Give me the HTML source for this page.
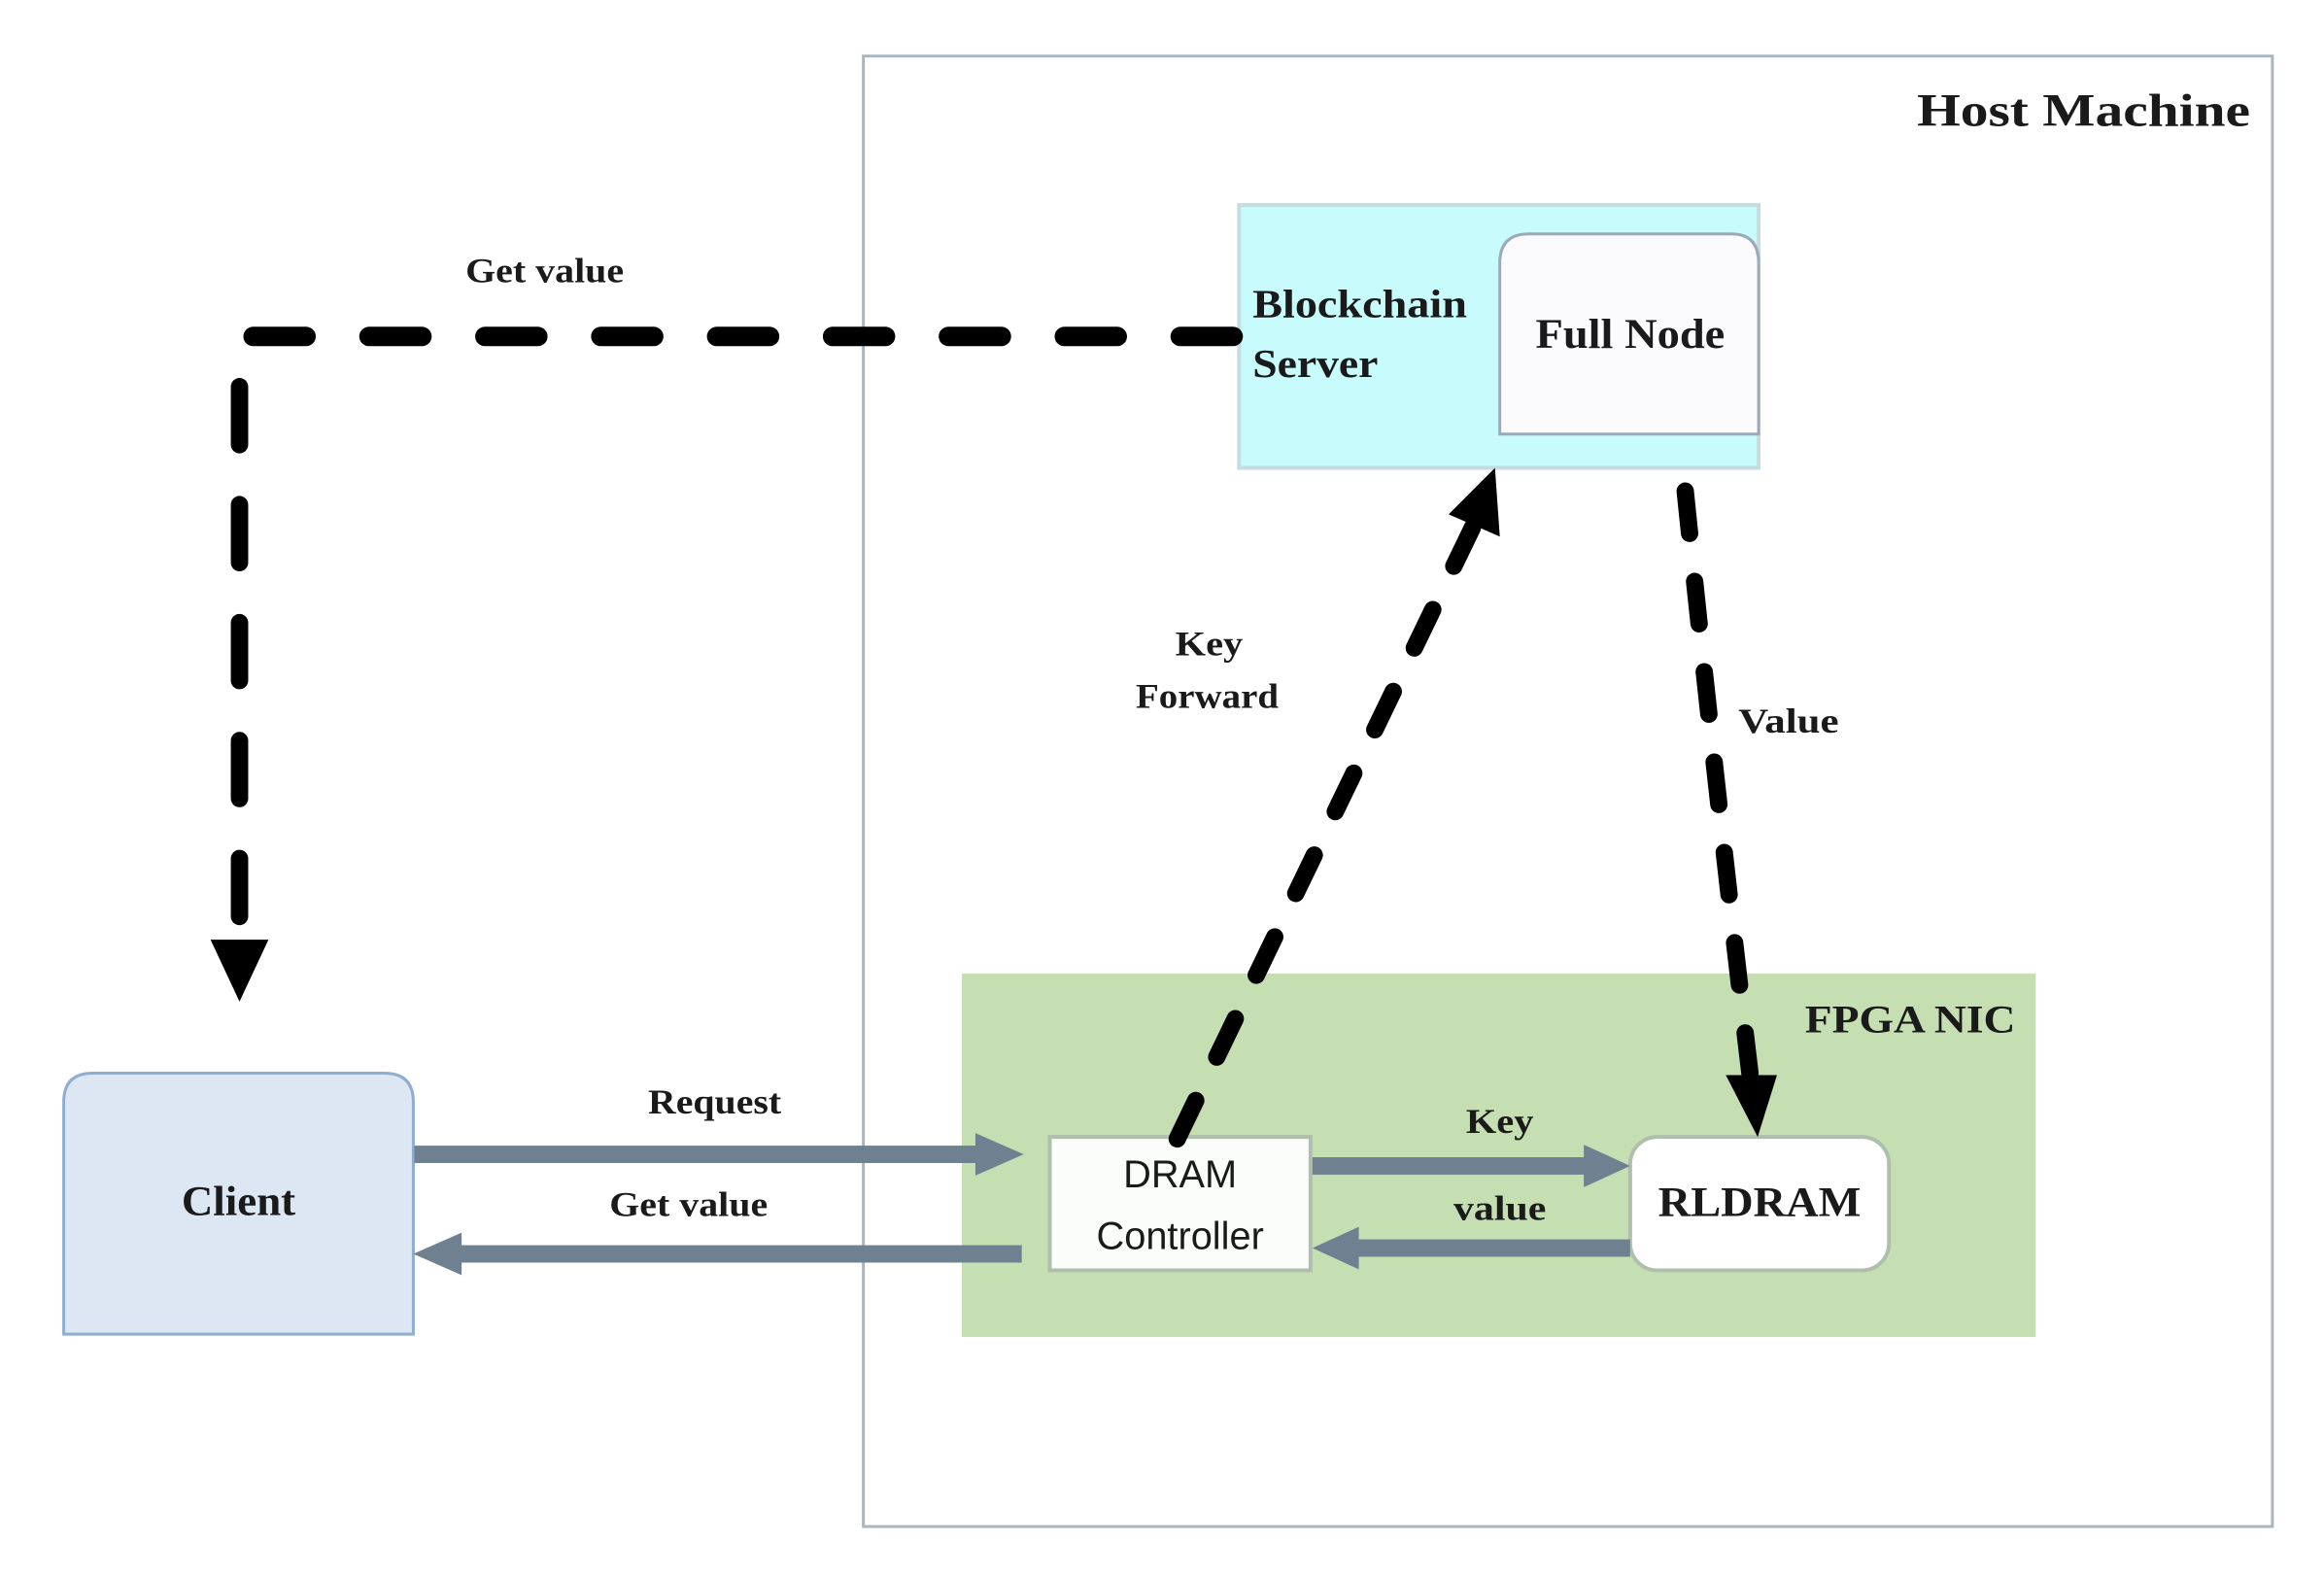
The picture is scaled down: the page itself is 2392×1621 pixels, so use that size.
<!DOCTYPE html>
<html><head><meta charset="utf-8"><style>
html,body{margin:0;padding:0;background:#fff;}
svg{display:block;}
.t{font-family:"Liberation Serif",serif;font-weight:bold;fill:#1a1a1a;}
.s{font-family:"Liberation Sans",sans-serif;fill:#1a1a1a;}
</style></head><body>
<svg width="2392" height="1621" viewBox="0 0 2392 1621" xmlns="http://www.w3.org/2000/svg">
<g transform="scale(0.994 0.995)">
<rect x="894" y="58" width="1459" height="1521" fill="#fff" stroke="#a9b6c2" stroke-width="3"/>
<text x="2330" y="130" text-anchor="end" class="t" font-size="48" textLength="345" lengthAdjust="spacingAndGlyphs">Host Machine</text>

<rect x="1283" y="212" width="538" height="272" fill="#c8fbfb" stroke="#c4dde0" stroke-width="4"/>
<path d="M1553 449 V272 Q1553 242 1583 242 H1793 Q1821 242 1821 272 V449 Z" fill="#fbfbfe" stroke="#9aaab8" stroke-width="3"/>
<text x="1297" y="328" class="t" font-size="42" textLength="222" lengthAdjust="spacingAndGlyphs">Blockchain</text>
<text x="1297" y="390" class="t" font-size="42" textLength="130" lengthAdjust="spacingAndGlyphs">Server</text>
<text x="1688" y="360" text-anchor="middle" class="t" font-size="44" textLength="196" lengthAdjust="spacingAndGlyphs">Full Node</text>

<text x="564" y="292" text-anchor="middle" class="t" font-size="36" textLength="164" lengthAdjust="spacingAndGlyphs">Get value</text>
<line x1="262" y1="348" x2="1285" y2="348" stroke="#000" stroke-width="20" stroke-linecap="round" stroke-dasharray="55 65"/>
<line x1="248" y1="400" x2="248" y2="960" stroke="#000" stroke-width="18" stroke-linecap="round" stroke-dasharray="60 62"/>
<polygon points="218,972 278,972 248,1036" fill="#000"/>

<path d="M66 1380 V1140 Q66 1110 96 1110 H398 Q428 1110 428 1140 V1380 Z" fill="#dce7f3" stroke="#8fadd0" stroke-width="3"/>
<text x="247" y="1257" text-anchor="middle" class="t" font-size="44" textLength="118" lengthAdjust="spacingAndGlyphs">Client</text>

<rect x="996" y="1007" width="1112" height="376" fill="#c5deb2"/>
<text x="1978" y="1068" text-anchor="middle" class="t" font-size="40" textLength="218" lengthAdjust="spacingAndGlyphs">FPGA NIC</text>

<rect x="1087" y="1176" width="270" height="138" fill="#fbfdfb" stroke="#aebfae" stroke-width="4"/>
<text x="1222" y="1228" text-anchor="middle" class="s" font-size="40">DRAM</text>
<text x="1222" y="1292" text-anchor="middle" class="s" font-size="40">Controller</text>

<rect x="1688" y="1176" width="268" height="138" rx="28" fill="#fff" stroke="#aebfae" stroke-width="4"/>
<text x="1822" y="1258" text-anchor="middle" class="t" font-size="44" textLength="210" lengthAdjust="spacingAndGlyphs">RLDRAM</text>

<text x="740" y="1152" text-anchor="middle" class="t" font-size="36" textLength="138" lengthAdjust="spacingAndGlyphs">Request</text>
<rect x="429" y="1185" width="590" height="18" fill="#6f8190"/>
<polygon points="1010,1172 1060,1194 1010,1216" fill="#6f8190"/>
<text x="713" y="1258" text-anchor="middle" class="t" font-size="36" textLength="164" lengthAdjust="spacingAndGlyphs">Get value</text>
<rect x="470" y="1288" width="588" height="18" fill="#6f8190"/>
<polygon points="478,1275 428,1297 478,1319" fill="#6f8190"/>

<text x="1553" y="1172" text-anchor="middle" class="t" font-size="36" textLength="70" lengthAdjust="spacingAndGlyphs">Key</text>
<rect x="1359" y="1197" width="290" height="18" fill="#6f8190"/>
<polygon points="1640,1184 1688,1206 1640,1228" fill="#6f8190"/>
<text x="1553" y="1262" text-anchor="middle" class="t" font-size="36" textLength="96" lengthAdjust="spacingAndGlyphs">value</text>
<rect x="1400" y="1282" width="288" height="18" fill="#6f8190"/>
<polygon points="1407,1269 1359,1291 1407,1313" fill="#6f8190"/>

<line x1="1219" y1="1178" x2="1525" y2="545" stroke="#000" stroke-width="18" stroke-linecap="round" stroke-dasharray="44 50"/>
<polygon points="1548,484 1553,555 1500,532" fill="#000"/>
<text x="1252" y="678" text-anchor="middle" class="t" font-size="36" textLength="70" lengthAdjust="spacingAndGlyphs">Key</text>
<text x="1250" y="732" text-anchor="middle" class="t" font-size="36" textLength="148" lengthAdjust="spacingAndGlyphs">Forward</text>

<path d="M1745 508 Q1775 800 1812 1110" fill="none" stroke="#000" stroke-width="18" stroke-linecap="round" stroke-dasharray="44 50"/>
<polygon points="1787,1112 1840,1112 1820,1176" fill="#000"/>
<text x="1852" y="758" text-anchor="middle" class="t" font-size="36" textLength="104" lengthAdjust="spacingAndGlyphs">Value</text>
</g>
</svg>
</body></html>
